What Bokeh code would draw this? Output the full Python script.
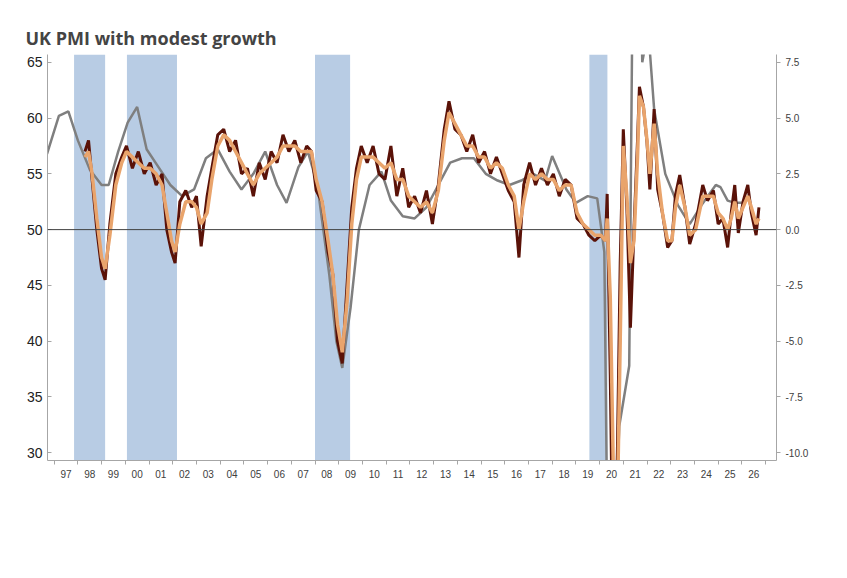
from bokeh.plotting import figure
from bokeh.models import (Range1d, LinearAxis, FixedTicker, Span, BoxAnnotation,
                          Legend, LegendItem, Label)
from bokeh.embed import file_html
from bokeh.resources import INLINE

# ---------------- data ----------------
years = list(range(1997, 2028))
year_labels = [str(y)[-2:] for y in years]

recessions = [(1997.84, 1999.15), (2000.07, 2002.18), (2008.0, 2009.48), (2019.57, 2020.33)]

pmi_t = [1998.3, 1998.45, 1998.6, 1998.8, 1999.0, 1999.15, 1999.35, 1999.6, 1999.85, 2000.05, 2000.3,
         2000.55, 2000.8, 2001.05, 2001.3, 2001.55, 2001.75, 2001.95, 2002.1, 2002.3, 2002.55, 2002.8,
         2003.0, 2003.2, 2003.45, 2003.65, 2003.9, 2004.15, 2004.4, 2004.65, 2004.9, 2005.15, 2005.4,
         2005.65, 2005.9, 2006.15, 2006.4, 2006.65, 2006.9, 2007.15, 2007.4, 2007.65, 2007.85, 2008.05,
         2008.3, 2008.55, 2008.75, 2008.95, 2009.15, 2009.35, 2009.55, 2009.75, 2009.95, 2010.2, 2010.45,
         2010.7, 2010.95, 2011.2, 2011.45, 2011.7, 2011.95, 2012.2, 2012.45, 2012.7, 2012.95, 2013.2,
         2013.45, 2013.65, 2013.9, 2014.15, 2014.4, 2014.65, 2014.9, 2015.15, 2015.4, 2015.65, 2015.9,
         2016.15, 2016.4, 2016.6, 2016.8, 2017.05, 2017.3, 2017.55, 2017.8, 2018.05, 2018.3, 2018.55,
         2018.8, 2019.05, 2019.3, 2019.55, 2019.8, 2020.05, 2020.25, 2020.32, 2020.45, 2020.6, 2020.75,
         2020.87, 2021.0, 2021.15, 2021.3, 2021.45, 2021.6, 2021.68, 2021.85, 2022.0, 2022.12, 2022.3,
         2022.45, 2022.65, 2022.87, 2023.05, 2023.2, 2023.38, 2023.6, 2023.8, 2024.05, 2024.35, 2024.55,
         2024.8, 2025.0, 2025.2, 2025.4, 2025.55, 2025.7, 2025.85, 2026.05, 2026.25, 2026.4, 2026.6,
         2026.72, 2026.82]
pmi_raw = [57.0, 58.0, 54.5, 50.0, 46.5, 45.5, 50.5, 55.0, 56.5, 57.5, 55.5, 57.0, 55.0, 56.0, 54.0,
           55.0, 50.0, 48.0, 47.0, 52.5, 53.5, 52.0, 53.0, 48.5, 53.0, 55.5, 58.5, 59.0, 57.0, 58.0,
           55.0, 55.5, 53.0, 56.0, 54.5, 57.0, 56.0, 58.5, 57.0, 58.0, 56.0, 57.5, 57.0, 53.5, 52.5,
           48.0, 46.0, 40.0, 38.0, 45.0, 52.0, 55.5, 57.5, 56.0, 57.5, 55.0, 54.5, 57.5, 53.0, 55.5,
           52.0, 53.0, 51.5, 53.5, 50.5, 54.0, 59.0, 61.5, 59.0, 58.5, 57.0, 58.5, 56.0, 57.0, 55.0,
           56.5, 55.0, 53.5, 52.5, 47.5, 54.0, 56.0, 54.0, 55.5, 54.0, 55.0, 53.0, 54.5, 54.0, 51.0,
           50.5, 49.5, 49.0, 49.5, 49.0, 53.2, 37.0, 13.8, 30.0, 47.0, 59.0, 52.0, 41.2, 50.0, 58.0,
           62.8, 61.0, 57.8, 53.6, 60.8, 53.6, 51.5, 48.4, 49.0, 53.1, 54.9, 52.0, 48.7, 50.5, 54.0,
           52.6, 53.5, 50.5, 51.0, 48.4, 51.5, 54.0, 49.7, 52.5, 54.0, 51.5, 49.5, 52.0]
pmi_ma = [56.5, 57.0, 55.0, 51.0, 47.5, 46.5, 49.5, 54.0, 56.0, 57.0, 56.5, 56.0, 55.5, 55.5, 55.0,
          54.0, 51.5, 49.0, 48.0, 50.5, 52.5, 52.5, 52.0, 50.5, 51.5, 54.5, 57.5, 58.5, 58.0, 57.0,
          56.0, 55.0, 54.0, 55.0, 55.5, 56.0, 56.5, 57.5, 57.5, 57.5, 57.0, 57.0, 57.0, 54.5, 52.5,
          49.0, 46.0, 41.5, 39.0, 43.5, 50.5, 54.5, 56.5, 56.5, 56.5, 56.0, 55.5, 56.0, 54.5, 54.5,
          53.0, 52.5, 52.0, 52.5, 51.5, 53.5, 58.0, 60.5, 59.5, 58.5, 57.5, 57.5, 56.5, 56.5, 55.5,
          56.0, 55.5, 54.0, 53.0, 50.0, 52.5, 55.0, 54.5, 55.0, 54.5, 54.5, 53.5, 54.0, 54.0, 51.5,
          50.5, 50.0, 49.5, 49.5, 49.0, 51.0, 44.0, 26.0, 25.0, 40.0, 57.5, 53.0, 47.0, 49.0, 56.5,
          62.0, 61.0, 58.0, 55.0, 59.5, 55.0, 51.5, 49.0, 49.0, 52.0, 54.0, 52.0, 49.5, 50.0, 53.0,
          53.0, 53.0, 51.5, 51.0, 50.0, 51.0, 52.5, 51.0, 52.0, 53.0, 52.0, 50.5, 51.0]

gdp_t = [1996.7, 1997.2, 1997.6, 1998.0, 1998.5, 1999.0, 1999.3, 1999.7, 2000.1, 2000.5, 2000.9, 2001.4,
         2001.9, 2002.4, 2002.9, 2003.4, 2003.9, 2004.4, 2004.9, 2005.4, 2005.9, 2006.4, 2006.8, 2007.3,
         2007.7, 2008.1, 2008.6, 2008.9, 2009.15, 2009.5, 2009.85, 2010.3, 2010.8, 2011.2, 2011.7, 2012.2,
         2012.7, 2013.2, 2013.7, 2014.2, 2014.7, 2015.2, 2015.7, 2016.2, 2016.7, 2017.2, 2017.7, 2018.0,
         2018.6, 2019.0, 2019.5, 2019.9, 2020.2, 2020.4, 2020.83, 2021.25, 2021.5, 2021.8, 2022.05,
         2022.3, 2022.77, 2023.3, 2023.8, 2024.3, 2024.9, 2025.1, 2025.4, 2025.7, 2026.0]
gdp_v = [3.4, 5.1, 5.3, 4.0, 2.7, 2.0, 2.0, 3.5, 4.8, 5.5, 3.6, 2.8, 2.0, 1.5, 1.8, 3.2, 3.6, 2.6,
         1.8, 2.5, 3.5, 2.0, 1.2, 2.8, 3.5, 2.0, -2.0, -5.0, -6.2, -3.5, 0.0, 2.0, 2.6, 1.3, 0.6, 0.5,
         1.0, 2.0, 3.0, 3.2, 3.2, 2.5, 2.2, 2.0, 2.2, 2.5, 2.2, 3.3, 1.8, 1.2, 1.5, 1.4, -1.0, -21.0,
         -8.8, -6.1, 24.0, 7.5, 9.0, 5.4, 2.5, 1.1, 0.25, 1.1, 2.0, 1.9, 1.3, 1.2, 1.2]

# ---------------- figure ----------------
p = figure(width=831, height=562, output_backend="svg", toolbar_location=None,
           x_range=Range1d(1996.72, 2027.46), y_range=Range1d(29.3, 65.7),
           min_border_left=47, min_border_right=55, min_border_top=54, min_border_bottom=102)
p.title.text = "UK PMI with modest growth"
p.title.text_font = "Open Sans"
p.title.text_font_size = "18px"
p.title.text_font_style = "bold"
p.title.offset = -22
p.outline_line_color = None
p.xgrid.visible = False
p.ygrid.visible = False

p.extra_y_ranges = {"right": Range1d((29.3 - 50) / 2, (65.7 - 50) / 2)}

for a, b in recessions:
    p.add_layout(BoxAnnotation(left=a, right=b, fill_color="#B8CCE4", fill_alpha=1.0,
                               line_color=None, level="underlay"))

p.add_layout(Span(location=50, dimension="width", line_color="#404040", line_width=1))

g = p.line(gdp_t, gdp_v, y_range_name="right", line_color="#7F7F7F", line_width=2.5)
r = p.line(pmi_t, pmi_raw, line_color="#5A1208", line_width=3)
o = p.line(pmi_t, pmi_ma, line_color="#E9A46C", line_width=3.5)

# axes
p.xaxis.ticker = FixedTicker(ticks=[y + 0.5 for y in years], minor_ticks=years)
p.xaxis.major_label_overrides = {y + 0.5: l for y, l in zip(years, year_labels)}
p.xaxis.major_tick_out = 0
p.xaxis.major_tick_in = 0
p.xaxis.minor_tick_out = 4
p.xaxis.minor_tick_in = 0
p.xaxis.axis_line_color = "#A6A6A6"
p.xaxis.minor_tick_line_color = "#A6A6A6"
p.xaxis.major_label_text_font_size = "10px"
p.xaxis.major_label_text_color = "#404040"

p.yaxis.ticker = FixedTicker(ticks=[30, 35, 40, 45, 50, 55, 60, 65])
p.yaxis.major_label_text_font_size = "14px"
p.yaxis.major_label_text_color = "#222222"
p.yaxis.axis_line_color = "#A6A6A6"
p.yaxis.major_tick_line_color = "#A6A6A6"
p.yaxis.major_tick_out = 0
p.yaxis.major_tick_in = 4
p.yaxis.minor_tick_line_color = None

ra = LinearAxis(y_range_name="right", ticker=FixedTicker(ticks=[-10, -7.5, -5, -2.5, 0, 2.5, 5, 7.5]))
ra.major_label_overrides = {-10: "-10.0", -7.5: "-7.5", -5: "-5.0", -2.5: "-2.5", 0: "0.0",
                            2.5: "2.5", 5: "5.0", 7.5: "7.5"}
ra.major_label_text_font_size = "10px"
ra.major_label_text_color = "#404040"
ra.axis_line_color = "#A6A6A6"
ra.major_tick_line_color = "#A6A6A6"
ra.major_tick_out = 4
ra.major_tick_in = 0
ra.minor_tick_line_color = None
p.add_layout(ra, "right")

p.add_layout(Label(x=1996.75, y=65.75, text="Index", text_font_size="9px", text_color="#404040",
                   text_align="center"))
p.add_layout(Label(x=2027.4, y=65.75, text="%", text_font_size="9px", text_color="#404040",
                   text_align="center"))

legend = Legend(items=[
    LegendItem(label="S&P Global, Composite PMI Output Index (Left axis) [lag 3 obs, m.a. 3 months]", renderers=[o]),
    LegendItem(label="S&P Global, Composite PMI Output Index (Left axis) [lag 3 obs]", renderers=[r]),
    LegendItem(label="Gross Domestic Product, At Market Prices, Constant Prices, GBP (Right axis) [a.r. 4 quarters]", renderers=[g]),
], location=(-20, -86), orientation="vertical", border_line_color=None, background_fill_alpha=0,
   label_text_font_size="12px", label_text_color="#222222", glyph_width=30, glyph_height=12,
   spacing=5, padding=2, margin=0, label_standoff=8)
p.add_layout(legend, "center")

p.add_layout(Label(x=1996.72, y=20.6, x_offset=-22, text="Source: Renaissance Macro Research, Macrobond",
                   text_color="#B04A2E", text_font_size="12px"))

open("out.html", "w").write(file_html(p, INLINE))
